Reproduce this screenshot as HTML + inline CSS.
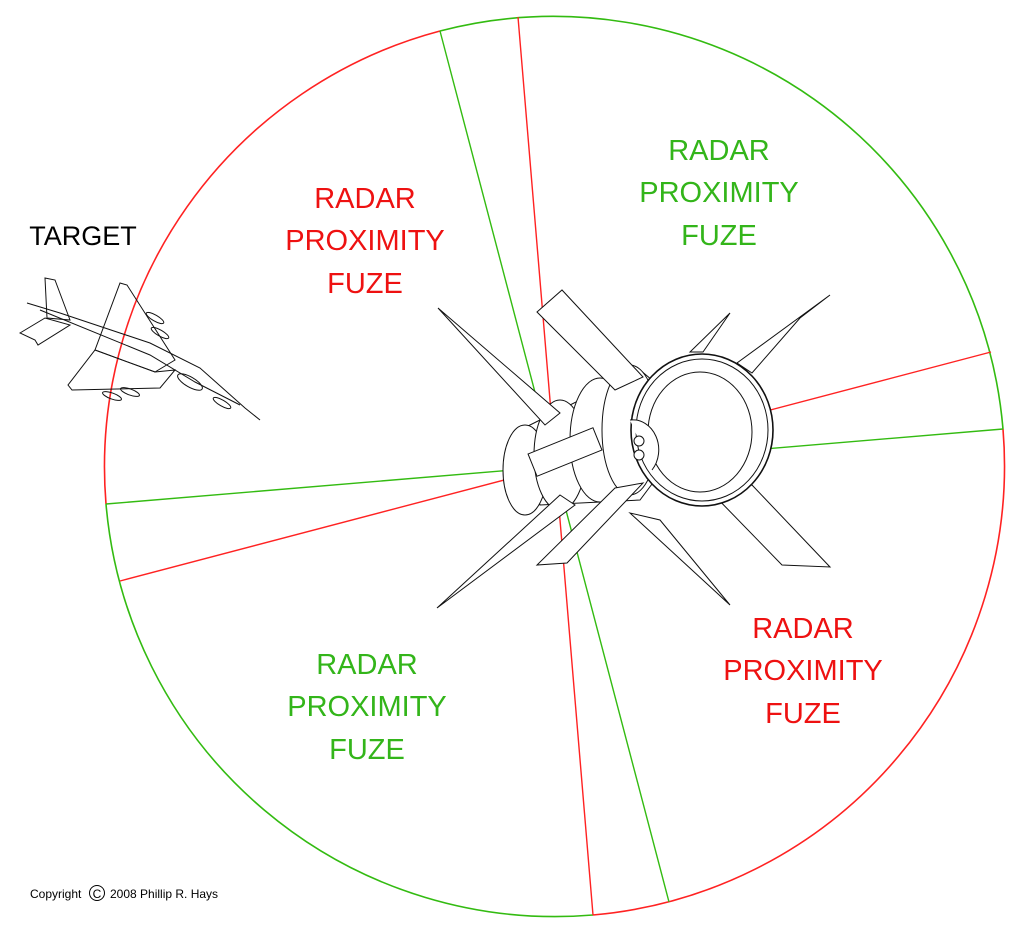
<!DOCTYPE html>
<html><head><meta charset="utf-8"><style>
html,body{margin:0;padding:0;background:#fff;}
svg{display:block;}
text{font-family:"Liberation Sans",Arial,sans-serif;}
</style></head><body>
<svg width="1024" height="934" viewBox="0 0 1024 934" xmlns="http://www.w3.org/2000/svg">
<g fill="none" stroke-width="1.6">
  <path d="M440,31 A451,451 0 0 0 106,504" stroke="#ff2222"/>
  <path d="M106,504 A451,451 0 0 0 593,915" stroke="#33bb11"/>
  <path d="M593,915 A451,451 0 0 0 1003,429" stroke="#ff2222"/>
  <path d="M1003,429 A451,451 0 0 0 440,31" stroke="#33bb11"/>
  <line x1="518" y1="17" x2="593" y2="915" stroke="#ff2222" stroke-width="1.4"/>
  <line x1="120" y1="581" x2="991" y2="352" stroke="#ff2222" stroke-width="1.4"/>
  <line x1="440" y1="31" x2="669" y2="902" stroke="#33bb11" stroke-width="1.4"/>
  <line x1="106" y1="504" x2="1003" y2="429" stroke="#33bb11" stroke-width="1.4"/>
</g>

<g fill="#fff" stroke="#111" stroke-width="1">
  <polygon points="830,295 737,363 752,373 800,318"/>
  <polygon points="730,313 690,352 703,352"/>
  <polygon points="752,485 830,567 782,565 712,493"/>
  <polygon points="630,513 730,605 660,520"/>
  <path d="M520,430 L640,370 L700,420 L640,500 L540,505 Z"/>
  <ellipse cx="525" cy="470" rx="22" ry="45"/>
  <ellipse cx="560" cy="455" rx="26" ry="55"/>
  <ellipse cx="600" cy="440" rx="30" ry="62"/>
  <ellipse cx="630" cy="430" rx="28" ry="65"/>
  <rect x="530" y="440" width="70" height="24" transform="rotate(-22 565 452)"/>
  <polygon points="438,308 560,413 545,425"/>
  <polygon points="537,312 562,290 643,377 615,390"/>
  <polygon points="560,495 437,608 575,505"/>
  <polygon points="615,488 643,483 567,563 537,565"/>
  <ellipse cx="702" cy="430" rx="71" ry="76" stroke-width="1.6"/>
  <ellipse cx="702" cy="430" rx="66" ry="71"/>
  <ellipse cx="700" cy="432" rx="52" ry="60"/>
  <path d="M630,420 A26,30 0 0 1 652,470" />
  <circle cx="639" cy="441" r="5"/>
  <circle cx="639" cy="455" r="5"/>
</g>

<g fill="none" stroke="#111" stroke-width="1">
  <polyline points="27,303 60,313 150,343 200,368 245,408 260,420"/>
  <polyline points="40,310 150,355 195,382 240,405"/>
  <polygon points="120,283 127,285 175,360 155,372 95,350"/>
  <polygon points="95,350 155,372 175,370 160,388 72,390 68,385"/>
  <polygon points="45,278 55,280 70,320 47,318"/>
  <polygon points="20,333 45,318 70,325 38,345 35,340"/>
  <ellipse cx="190" cy="382" rx="14" ry="5" transform="rotate(30 190 382)"/>
  <ellipse cx="155" cy="318" rx="10" ry="3" transform="rotate(30 155 318)"/>
  <ellipse cx="160" cy="333" rx="10" ry="3" transform="rotate(30 160 333)"/>
  <ellipse cx="112" cy="396" rx="10" ry="3" transform="rotate(20 112 396)"/>
  <ellipse cx="130" cy="392" rx="10" ry="3" transform="rotate(20 130 392)"/>
  <ellipse cx="222" cy="403" rx="10" ry="3" transform="rotate(30 222 403)"/>
</g>

<g font-size="29" text-anchor="middle">
  <text x="83" y="245" fill="#000" font-size="27">TARGET</text>
  <g fill="#ee1111">
    <text x="365" y="208">RADAR</text>
    <text x="365" y="250">PROXIMITY</text>
    <text x="365" y="293">FUZE</text>
  </g>
  <g fill="#33b51a">
    <text x="719" y="160">RADAR</text>
    <text x="719" y="202">PROXIMITY</text>
    <text x="719" y="245">FUZE</text>
  </g>
  <g fill="#33b51a">
    <text x="367" y="674">RADAR</text>
    <text x="367" y="716">PROXIMITY</text>
    <text x="367" y="759">FUZE</text>
  </g>
  <g fill="#ee1111">
    <text x="803" y="638">RADAR</text>
    <text x="803" y="680">PROXIMITY</text>
    <text x="803" y="723">FUZE</text>
  </g>
</g>
<text x="30" y="898" font-size="12" fill="#000">Copyright</text>
<circle cx="97" cy="893" r="7.5" fill="none" stroke="#000" stroke-width="1"/>
<text x="97" y="898" font-size="12" fill="#000" text-anchor="middle">C</text>
<text x="110" y="898" font-size="12" fill="#000">2008 Phillip R. Hays</text>
</svg>
</body></html>
